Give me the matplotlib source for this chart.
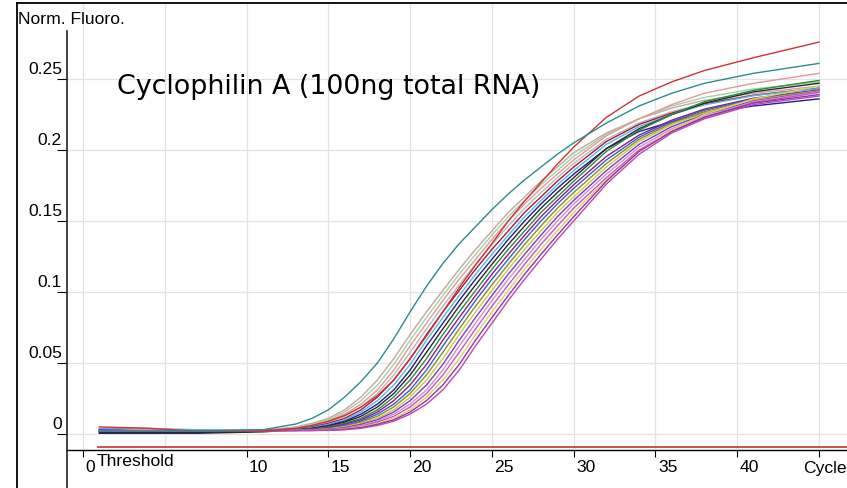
import matplotlib
matplotlib.use("Agg")
import matplotlib.pyplot as plt
from matplotlib.lines import Line2D
from matplotlib.transforms import ScaledTranslation

# ---------------- data ----------------
CYCLES = [1, 4, 7, 11, 13, 14, 15, 16, 17, 18, 19, 20, 21, 22, 23, 24, 25, 26,
          27, 28, 29, 30, 32, 34, 36, 38, 41, 45]

TEAL = [.002, .002, .002, .003, .007, .011, .017, .026, .037, .050, .067, .086, .104, .120,
        .134, .146, .158, .169, .179, .188, .197, .205, .219, .231, .240, .247, .254, .261]
RED = [.005, .004, .002, .002, .004, .006, .009, .013, .019, .027, .038, .053, .069, .086,
       .103, .119, .134, .150, .164, .177, .190, .202, .223, .238, .248, .256, .265, .276]
ROSY = [.003, .003, .002, .0025, .005, .0075, .011, .017, .026, .038, .053, .070, .086, .101,
        .116, .130, .143, .156, .167, .178, .188, .198, .212, .222, .2295, .235, .240, .245]
LIGHT_GREEN = [.002, .002, .002, .0025, .0045, .0068, .010, .0155, .0235, .0345, .049, .066, .082,
               .0975, .1125, .1265, .140, .153, .1645, .1755, .1855, .1955, .211, .222, .231, .237, .243, .248]
SALMON = [.003, .003, .002, .0025, .004, .006, .009, .014, .021, .031, .045, .062, .078, .094,
          .109, .123, .137, .150, .162, .173, .183, .193, .210, .222, .232, .240, .247, .254]
LIGHT_GRAY = [.001, .001, .001, .002, .0038, .0055, .0083, .0125, .019, .0285, .0415, .0575, .074, .090,
              .105, .1195, .1335, .1465, .159, .170, .1805, .1905, .2075, .219, .227, .233, .2388, .2438]
DARK_RED = [.002, .002, .002, .0025, .0035, .005, .0075, .011, .017, .026, .038, .053, .070, .086,
            .101, .116, .130, .143, .156, .167, .178, .188, .206, .218, .226, .2325, .2385, .2435]
LIGHT_BLUE = [.004, .004, .003, .003, .0033, .0045, .0068, .010, .0155, .0235, .0345, .049, .066, .082,
              .0975, .1125, .1265, .140, .153, .1645, .1755, .1855, .204, .2165, .225, .2318, .2383, .2433]
NAVY = [.001, .001, .001, .002, .003, .004, .006, .009, .014, .021, .031, .045, .062, .078,
        .094, .109, .123, .137, .150, .162, .173, .183, .201, .213, .220, .226, .231, .236]
BLACK = [.0005, .0005, .0005, .0015, .0029, .0038, .0055, .0083, .0125, .019, .0285, .0415, .0575, .074,
         .090, .105, .1195, .1335, .1465, .159, .170, .1805, .201, .215, .225, .233, .241, .247]
GREEN = [.002, .002, .002, .0025, .0028, .0035, .005, .0075, .011, .017, .026, .038, .053, .070,
         .086, .101, .116, .130, .143, .156, .167, .178, .199, .214, .225, .234, .242, .249]
DARK_MAGENTA = [.003, .002, .002, .0025, .0027, .0033, .0045, .0068, .010, .0155, .0235, .0345, .049, .066,
                .082, .0975, .1125, .1265, .140, .153, .1645, .1755, .1955, .2105, .221, .2288, .2365, .2423]
BLUE = [.002, .002, .002, .0025, .0025, .003, .004, .006, .009, .014, .021, .031, .045, .062,
        .078, .094, .109, .123, .137, .150, .162, .173, .193, .209, .220, .228, .236, .242]
OLIVE = [.002, .002, .002, .0025, .0025, .0029, .0038, .0055, .0083, .0125, .019, .0285, .0415, .0575,
         .074, .090, .105, .1195, .1335, .1465, .159, .170, .1905, .2075, .219, .227, .2355, .2418]
YELLOW_GREEN = [.002, .002, .002, .0025, .0025, .0028, .0035, .005, .0075, .011, .017, .026, .038, .053,
                .070, .086, .101, .116, .130, .143, .156, .167, .188, .206, .218, .226, .235, .2415]
PURPLE = [.003, .002, .002, .0025, .0025, .0027, .0033, .0045, .0068, .010, .0155, .0235, .0345, .049,
          .066, .082, .0975, .1125, .1265, .140, .153, .1645, .1855, .204, .2165, .225, .2345, .2413]
LIGHT_PURPLE = [.002, .002, .002, .0025, .0025, .0025, .003, .004, .006, .009, .014, .021, .031, .045,
                .062, .078, .094, .109, .123, .137, .150, .162, .183, .202, .215, .224, .234, .241]
PINK_MAGENTA = [.002, .002, .002, .0025, .0025, .0025, .0029, .0038, .0055, .0083, .0125, .019, .0285, .0415,
                .0575, .074, .090, .105, .1195, .1335, .1465, .159, .1805, .200, .2135, .223, .2333, .2405]
YELLOW = [.002, .002, .002, .0025, .0025, .0025, .0028, .0035, .005, .0075, .011, .017, .026, .038,
          .053, .070, .086, .101, .116, .130, .143, .156, .179, .199, .214, .225, .236, .245]
VIOLET = [.002, .002, .002, .0025, .0025, .0025, .0027, .0033, .0045, .0068, .010, .0155, .0235, .0345,
          .049, .066, .082, .0975, .1125, .1265, .140, .153, .178, .199, .213, .223, .233, .239]
MAGENTA = [.002, .002, .002, .0025, .0025, .0025, .0025, .003, .004, .006, .009, .014, .021, .031,
           .045, .062, .078, .094, .109, .123, .137, .150, .176, .197, .212, .222, .232, .238]

SERIES = [ROSY, LIGHT_GREEN, SALMON, LIGHT_GRAY, DARK_RED, LIGHT_BLUE, NAVY, BLACK, GREEN,
          DARK_MAGENTA, BLUE, OLIVE, YELLOW_GREEN, PURPLE, LIGHT_PURPLE, PINK_MAGENTA, YELLOW,
          VIOLET, MAGENTA, RED, TEAL]
COLORS = ["#c4a4a4", "#9fd39f", "#e8969a", "#b8b8b8", "#a8183a", "#5ab4e0", "#1c1c9c", "#2a2a2a",
          "#2e8b3e", "#8b1a8b", "#3a5ad0", "#8a8a30", "#c8c83c", "#7a3cc0", "#c890d8", "#d050c0",
          "#d4d460", "#9830a8", "#b848b8", "#cc3333", "#2b8c8c"]

THRESHOLD = -0.0092
THRESHOLD_START = 0.85

YTICKS = [0, 0.05, 0.1, 0.15, 0.2, 0.25]
YTICK_LABELS = ["0", "0.05", "0.1", "0.15", "0.2", "0.25"]
XTICKS = [0, 10, 15, 20, 25, 30, 35, 40, 45]
XTICK_LABELS = ["0", "10", "15", "20", "25", "30", "35", "40", ""]
XGRID = [0, 5, 10, 15, 20, 25, 30, 35, 40, 45]

TITLE = "Cyclophilin A (100ng total RNA)"
YLABEL = "Norm. Fluoro."
XLABEL = "Cycle"

# ---------------- figure ----------------
W, H, DPI = 847, 489, 100
fig = plt.figure(figsize=(W / DPI, H / DPI), dpi=DPI, facecolor="white")

AX_L, AX_R, AX_T, AX_B = 67, 847, 5, 451
ax = fig.add_axes([AX_L / W, 1 - AX_B / H, (AX_R - AX_L) / W, (AX_B - AX_T) / H])
PX_PER_CYCLE = (819 - 83) / 45.0
PX_PER_UNIT = 71 / 0.05
ax.set_xlim((AX_L - 83) / PX_PER_CYCLE, (AX_R - 83) / PX_PER_CYCLE)
ax.set_ylim((435 - AX_B) / PX_PER_UNIT, (435 - AX_T) / PX_PER_UNIT)

for s in ["top", "right", "left"]:
    ax.spines[s].set_visible(False)
ax.spines["bottom"].set_color("black")
ax.spines["bottom"].set_linewidth(1.0)

GRID_C = "#e2e2e2"
for c in XGRID:
    ax.axvline(c, color=GRID_C, lw=0.9, zorder=0)
for v in YTICKS:
    ax.axhline(v, color=GRID_C, lw=0.9, zorder=0)

for vals, col in zip(SERIES, COLORS):
    ax.plot(CYCLES, vals, color=col, lw=1.0, solid_joinstyle="round", zorder=2)

# threshold
ax.hlines(THRESHOLD, THRESHOLD_START, ax.get_xlim()[1], color="#cc3030", lw=1.2,
          zorder=3, clip_on=False)

# ticks
ax.set_xticks(XTICKS)
ax.set_xticklabels([])
ax.set_yticks(YTICKS)
ax.set_yticklabels([])
ax.tick_params(axis="x", direction="out", length=5, width=0.8, color="black")
ax.tick_params(axis="y", direction="out", length=7.2, width=0.8, color="black")

SMALL = dict(family="Liberation Sans", fontsize=12.6, color="black")


def off(dx, dy):
    return ScaledTranslation(dx / DPI, dy / DPI, fig.dpi_scale_trans)


for v, lab in zip(YTICKS, YTICK_LABELS):
    ax.text(0, v, lab, transform=ax.get_yaxis_transform() + off(-5, 5.5),
            ha="right", va="baseline", **SMALL)
for c, lab in zip(XTICKS, XTICK_LABELS):
    if lab:
        ax.text(c, 0, lab, transform=ax.get_xaxis_transform() + off(2.5, -21),
                ha="left", va="baseline", **SMALL)
ax.text(THRESHOLD_START, 0, "Threshold", transform=ax.get_xaxis_transform() + off(0, -15),
        ha="left", va="baseline", **SMALL)
fig.text(1.0, 1 - 473 / H, XLABEL, ha="right", va="baseline", **SMALL)
fig.text(18 / W, 1 - 24 / H, YLABEL, ha="left", va="baseline", **SMALL)

# title annotation
fig.text(117 / W, 1 - 94 / H, TITLE, family="DejaVu Sans", fontsize=19.4,
         ha="left", va="baseline", color="black")

# y axis line (extends below x axis) and outer frame
fig.add_artist(Line2D([AX_L / W, AX_L / W], [1 - 32 / H, 0], transform=fig.transFigure,
                      color="#222222", lw=1.2))
fig.add_artist(Line2D([17 / W, 17 / W], [0, 1 - 4 / H], transform=fig.transFigure,
                      color="black", lw=1.3))
fig.add_artist(Line2D([17 / W, 1], [1 - 4 / H, 1 - 4 / H], transform=fig.transFigure,
                      color="black", lw=1.3))

fig.savefig("out.png", dpi=DPI, facecolor="white")
